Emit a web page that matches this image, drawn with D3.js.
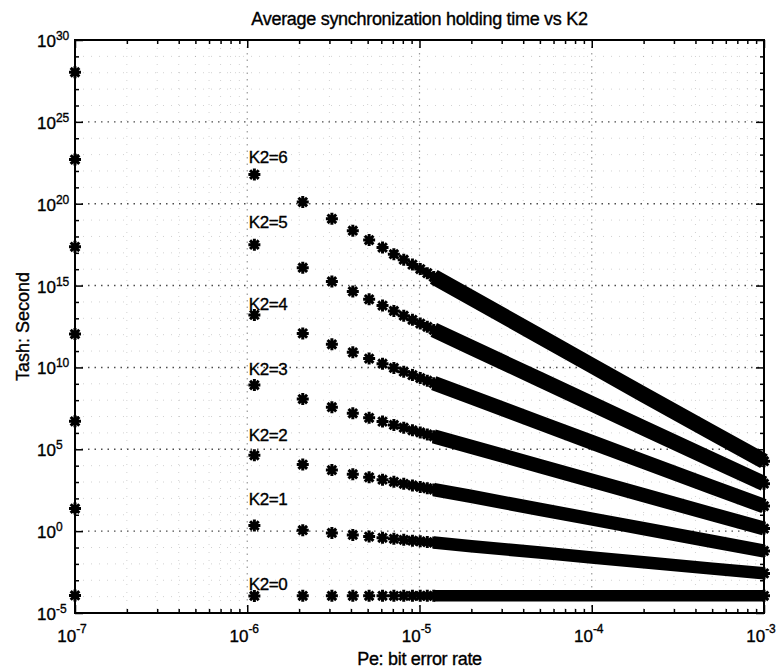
<!DOCTYPE html>
<html>
<head>
<meta charset="utf-8">
<script src="https://cdn.jsdelivr.net/npm/d3@7"></script>
<style>
  html, body { margin: 0; padding: 0; background: #fff; }
  svg text { font-family: "Liberation Sans", Arial, Helvetica, sans-serif; fill: #000; stroke: #000; stroke-width: 0.35px; }
</style>
</head>
<body>
<svg id="chart" width="777" height="671"></svg>
<script>
// Bit error rates where each asterisk still stands apart
const peMarkers = [1e-7, 1.1e-6, 2.1e-6, 3.1e-6, 4.1e-6, 5.1e-6, 6.1e-6, 7.1e-6, 8.1e-6, 9.1e-6, 1.01e-5, 1.11e-5, 1.21e-5];
// Bit error rates along the dense run, where the asterisks merge into a solid band
const peBand = [1.21e-5, 2e-5, 5e-5, 1e-4, 2e-4, 5e-4, 1e-3];

// log10 of the holding time (s) for each K2, at peMarkers and at peBand
const logTashMarkersK0 = [-3.93, -3.96, -3.95, -3.95, -3.95, -3.95, -3.95, -3.95, -3.95, -3.95, -3.95, -3.95, -3.95];
const logTashBandK0    = [-3.95, -3.95, -3.95, -3.95, -3.95, -3.95, -3.95];
const logTashMarkersK1 = [1.38, 0.34, 0.06, -0.11, -0.23, -0.33, -0.41, -0.47, -0.53, -0.58, -0.62, -0.67, -0.70];
const logTashBandK1    = [-0.70, -0.92, -1.31, -1.61, -1.90, -2.29, -2.58];
const logTashMarkersK2 = [6.71, 4.63, 4.07, 3.73, 3.48, 3.29, 3.14, 3.01, 2.89, 2.79, 2.70, 2.62, 2.54];
const logTashBandK2    = [2.54, 2.12, 1.33, 0.74, 0.15, -0.63, -1.21];
const logTashMarkersK3 = [12.04, 8.92, 8.07, 7.57, 7.20, 6.92, 6.69, 6.49, 6.32, 6.16, 6.03, 5.91, 5.79];
const logTashBandK3    = [5.79, 5.15, 3.97, 3.09, 2.20, 1.03, 0.16];
const logTashMarkersK4 = [17.37, 13.21, 12.08, 11.41, 10.92, 10.54, 10.23, 9.97, 9.74, 9.53, 9.35, 9.19, 9.04];
const logTashBandK4    = [9.04, 8.19, 6.61, 5.43, 4.25, 2.69, 1.53];
const logTashMarkersK5 = [22.70, 17.50, 16.09, 15.25, 14.64, 14.16, 13.78, 13.45, 13.16, 12.91, 12.68, 12.48, 12.29];
const logTashBandK5    = [12.29, 11.22, 9.26, 7.78, 6.30, 4.36, 2.90];
const logTashMarkersK6 = [28.03, 21.78, 20.10, 19.08, 18.35, 17.78, 17.32, 16.92, 16.58, 16.28, 16.01, 15.76, 15.53];
const logTashBandK6    = [15.53, 14.25, 11.90, 10.12, 8.34, 6.02, 4.27];

// Curve labels and where they sit (Pe, log10 Tash of the label centre)
const labelTexts = ["K2=0", "K2=1", "K2=2", "K2=3", "K2=4", "K2=5", "K2=6"];
const labelPe = 1.02e-6;
const labelLogTash = [-3.2, 1.95, 5.9, 9.9, 13.9, 18.9, 22.85];

// Axis ticks
const xMajorExp = [-7, -6, -5, -4, -3];
const yMajorExp = [-5, 0, 5, 10, 15, 20, 25, 30];

const titleText = "Average synchronization holding time vs K2";
const xLabelText = "Pe: bit error rate";
const yLabelText = "Tash: Second";

const markerSets = [logTashMarkersK0, logTashMarkersK1, logTashMarkersK2, logTashMarkersK3,
                    logTashMarkersK4, logTashMarkersK5, logTashMarkersK6];
const bandSets = [logTashBandK0, logTashBandK1, logTashBandK2, logTashBandK3,
                  logTashBandK4, logTashBandK5, logTashBandK6];

const series = markerSets.map((m, i) => ({
  k2: i,
  markers: peMarkers.map((pe, j) => ({ pe, t: Math.pow(10, m[j]) })),
  band: peBand.map((pe, j) => ({ pe, t: Math.pow(10, bandSets[i][j]) }))
}));

const svg = d3.select("#chart");
const plotL = 75, plotR = 764, plotT = 40, plotB = 613;

const x = d3.scaleLog().domain([1e-7, 1e-3]).range([plotL, plotR]);
const y = d3.scaleLog().domain([1e-5, 1e30]).range([plotB, plotT]);

const xMajor = xMajorExp.map(e => Math.pow(10, e));
const xMinor = [];
for (let e = -7; e < -3; e++) for (let m = 2; m <= 9; m++) xMinor.push(m * Math.pow(10, e));
const yMajor = yMajorExp.map(e => Math.pow(10, e));
const yMinor = d3.range(-5, 31).filter(e => e % 5 !== 0).map(e => Math.pow(10, e));

// Dotted grid
const grid = svg.append("g").attr("fill", "none").attr("stroke", "#000");
grid.append("g").selectAll("line").data(xMinor).join("line")
  .attr("x1", d => x(d)).attr("x2", d => x(d)).attr("y1", plotT).attr("y2", plotB)
  .attr("stroke-width", 1).attr("stroke-dasharray", "1,7").attr("opacity", 0.18);
grid.append("g").selectAll("line").data(yMinor).join("line")
  .attr("y1", d => y(d)).attr("y2", d => y(d)).attr("x1", plotL).attr("x2", plotR)
  .attr("stroke-width", 1).attr("stroke-dasharray", "1,7").attr("opacity", 0.18);
grid.append("g").selectAll("line").data(xMajor.slice(1, -1)).join("line")
  .attr("x1", d => x(d)).attr("x2", d => x(d)).attr("y1", plotT).attr("y2", plotB)
  .attr("stroke-width", 1.2).attr("stroke-dasharray", "1.5,5").attr("opacity", 0.4);
grid.append("g").selectAll("line").data(yMajor.slice(1, -1)).join("line")
  .attr("y1", d => y(d)).attr("y2", d => y(d)).attr("x1", plotL).attr("x2", plotR)
  .attr("stroke-width", 1.4).attr("stroke-dasharray", "1.5,5").attr("opacity", 0.7);

// Axis ticks on all four sides, pointing inward
function ticks(axis, vals, size, transform) {
  const g = svg.append("g").attr("transform", transform)
    .call(axis.tickValues(vals).tickSize(size).tickFormat(""));
  g.select(".domain").remove();
  g.selectAll(".tick line").attr("stroke", "#000").attr("stroke-width", 1.5);
}
ticks(d3.axisBottom(x), xMajor, -8, `translate(0,${plotB})`);
ticks(d3.axisBottom(x), xMinor, -4, `translate(0,${plotB})`);
ticks(d3.axisTop(x), xMajor, -8, `translate(0,${plotT})`);
ticks(d3.axisTop(x), xMinor, -4, `translate(0,${plotT})`);
ticks(d3.axisLeft(y), yMajor, -8, `translate(${plotL},0)`);
ticks(d3.axisLeft(y), yMinor, -4, `translate(${plotL},0)`);
ticks(d3.axisRight(y), yMajor, -8, `translate(${plotR},0)`);
ticks(d3.axisRight(y), yMinor, -4, `translate(${plotR},0)`);

// Frame
svg.append("rect").attr("x", plotL).attr("y", plotT)
  .attr("width", plotR - plotL).attr("height", plotB - plotT)
  .attr("fill", "none").attr("stroke", "#000").attr("stroke-width", 2);

// Tick labels as 10 with a superscript exponent
const xl = svg.append("g").selectAll("text").data(xMajorExp).join("text")
  .attr("x", d => x(Math.pow(10, d)) - 3).attr("y", 642)
  .attr("text-anchor", "middle").attr("font-size", 17);
xl.append("tspan").text("10");
xl.append("tspan").attr("font-size", 12).attr("dy", -9).text(d => d);

const yl = svg.append("g").selectAll("text").data(yMajorExp).join("text")
  .attr("x", 37).attr("y", d => y(Math.pow(10, d)) + 7)
  .attr("font-size", 17);
yl.append("tspan").text("10");
yl.append("tspan").attr("font-size", 12).attr("dy", -7).text(d => d);

// Dense runs of asterisks drawn as a thick band
const line = d3.line().x(d => x(d.pe)).y(d => y(d.t));
const markSize = 11.5;
svg.append("g").selectAll("path").data(series).join("path")
  .attr("d", d => line(d.band))
  .attr("fill", "none").attr("stroke", "#000")
  .attr("stroke-linecap", "butt").attr("stroke-linejoin", "round")
  .attr("stroke-width", d => {
    const a = d.band[0], b = d.band[d.band.length - 1];
    const th = Math.atan2(Math.abs(y(b.t) - y(a.t)), x(b.pe) - x(a.pe));
    return markSize * (Math.cos(th) + Math.sin(th));
  });

// Asterisk marker ('+' and 'x' overlaid)
const r = 6, rd = r * 0.72;
const star = `M${-r},0H${r}M0,${-r}V${r}M${-rd},${-rd}L${rd},${rd}M${-rd},${rd}L${rd},${-rd}`;
svg.append("g").selectAll("g").data(series).join("g")
  .selectAll("path").data(d => d.markers.concat([d.band[d.band.length - 1]])).join("path")
  .attr("d", star)
  .attr("transform", d => `translate(${x(d.pe)},${y(d.t)})`)
  .attr("fill", "none").attr("stroke", "#000").attr("stroke-width", 3);

// Curve labels
svg.append("g").selectAll("text").data(labelTexts).join("text")
  .attr("x", x(labelPe)).attr("y", (d, i) => y(Math.pow(10, labelLogTash[i])))
  .attr("dy", "0.36em").attr("font-size", 17).attr("letter-spacing", -0.4)
  .text(d => d);

// Title and axis labels
svg.append("text").attr("x", (plotL + plotR) / 2).attr("y", 25)
  .attr("text-anchor", "middle").attr("font-size", 18).attr("letter-spacing", -0.3)
  .text(titleText);
svg.append("text").attr("x", (plotL + plotR) / 2).attr("y", 665)
  .attr("text-anchor", "middle").attr("font-size", 18).attr("letter-spacing", -0.3)
  .text(xLabelText);
svg.append("text")
  .attr("transform", `translate(29,${(plotT + plotB) / 2}) rotate(-90)`)
  .attr("text-anchor", "middle").attr("font-size", 18)
  .text(yLabelText);
</script>
</body>
</html>
